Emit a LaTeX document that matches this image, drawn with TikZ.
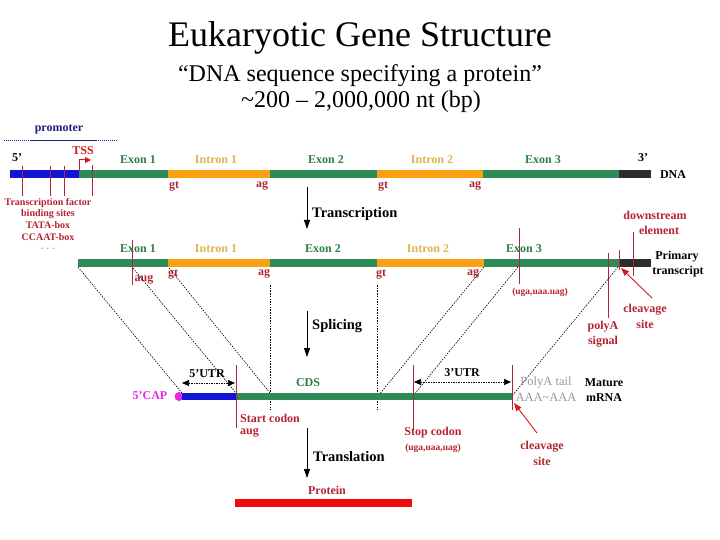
\documentclass[tikz,border=0pt]{standalone}
\usepackage{fontspec}
\setmainfont{Liberation Serif}
\usetikzlibrary{arrows.meta}
\definecolor{dnagreen}{RGB}{46,139,87}
\definecolor{intorange}{RGB}{250,160,20}
\definecolor{promblue}{RGB}{20,20,215}
\definecolor{darkend}{RGB}{45,45,45}
\definecolor{exlbl}{RGB}{45,125,70}
\definecolor{inlbl}{RGB}{225,178,80}
\definecolor{lblred}{RGB}{180,35,50}
\definecolor{tickred}{RGB}{175,40,55}
\definecolor{arrred}{RGB}{215,25,30}
\definecolor{navytxt}{RGB}{30,30,130}
\definecolor{capmag}{RGB}{230,40,230}
\definecolor{tailgrey}{RGB}{150,150,150}
\definecolor{protred}{RGB}{240,10,10}
\newcommand\fsz[1]{\fontsize{#1}{#1}\selectfont}
\tikzset{
  lbl/.style={font=\bfseries\fsz{12}, inner sep=0pt},
  tflbl/.style={font=\bfseries\fsz{10}, inner sep=0pt, text=lblred},
  proc/.style={font=\bfseries\fsz{14.5}, inner sep=0pt, anchor=west},
  redtxt/.style={lbl, text=lblred},
  extxt/.style={lbl, text=exlbl},
  intxt/.style={lbl, text=inlbl},
  blk/.style={lbl, text=black},
  greytxt/.style={font=\fsz{12.5}, inner sep=0pt, text=tailgrey},
  redtick/.style={draw=tickred, line width=0.9pt},
  mapline/.style={line width=0.6pt, dash pattern=on 1.5pt off 1.2pt},
  procarrow/.style={line width=0.9pt, -{Triangle[length=9pt,width=6pt]}},
  redarrow/.style={draw=arrred, line width=0.9pt, -{Triangle[length=8pt,width=6pt]}},
  utrarrow/.style={line width=0.7pt, dash pattern=on 1.5pt off 1pt,
    {Triangle[length=7pt,width=6pt]}-{Triangle[length=7pt,width=6pt]}},
}
\begin{document}
\begin{tikzpicture}[x=1pt,y=-1pt]
\useasboundingbox (0,0) rectangle (720,540);

% ---------------- title ----------------
\node[font=\fsz{36}, anchor=base, inner sep=0pt] (title) at (360,47) {Eukaryotic Gene Structure};
\node[font=\fsz{24}, anchor=base, inner sep=0pt] (sub1) at (360,82) {“DNA sequence specifying a protein”};
\node[font=\fsz{24}, anchor=base, inner sep=0pt] (sub2) at (361,108) {\textasciitilde200 -- 2,000,000 nt (bp)};

% ---------------- DNA row ----------------
\node[font=\bfseries\fsz{12}, text=navytxt, inner sep=0pt] (prom) at (59,129) {promoter};
\draw[navytxt, line width=0.6pt, dash pattern=on 1pt off 1pt] (4,140) -- (118,140);
\draw[navytxt, line width=0.8pt] (30,140) -- (97,140);

\fill[promblue] (10,170) rectangle (79,178);
\fill[dnagreen] (79,170) rectangle (168,178);
\fill[intorange] (168,170) rectangle (270,178);
\fill[dnagreen] (270,170) rectangle (377,178);
\fill[intorange] (377,170) rectangle (483,178);
\fill[dnagreen] (483,170) rectangle (619,178);
\fill[darkend] (619,170) rectangle (651,178);

\node[blk] (d5) at (17,158) {5'};
\node[blk] (d3) at (643,158) {3'};
\node[blk] (dna) at (673,175) {DNA};
\node[font=\bfseries\fsz{12}, text=arrred, inner sep=0pt] (tss) at (83,151) {TSS};
\coordinate (tssfoot) at (79,170);
\coordinate (tsshead) at (91,160);
\draw[arrred, line width=1pt, -{Triangle[length=6pt,width=6pt]}] (tssfoot) |- (tsshead);

\node[extxt] (dex1) at (138,160) {Exon 1};
\node[intxt] (din1) at (216,160) {Intron 1};
\node[extxt] (dex2) at (326,160) {Exon 2};
\node[intxt] (din2) at (432,160) {Intron 2};
\node[extxt] (dex3) at (543,160) {Exon 3};

\node[redtxt] (dgt1) at (174,186) {gt};
\node[redtxt] (dag1) at (262,186) {ag};
\node[redtxt] (dgt2) at (383,186) {gt};
\node[redtxt] (dag2) at (475,186) {ag};

\draw[redtick] (22,166) -- (22,196);
\draw[redtick] (50,166) -- (50,196);
\draw[redtick] (64,166) -- (64,196);
\draw[redtick] (92,165) -- (92,196);

\node[tflbl] (tf1) at (48,203) {Transcription factor};
\node[tflbl] (tf2) at (48,214) {binding sites};
\node[tflbl] (tf3) at (48,225) {TATA-box};
\node[tflbl] (tf4) at (48,237) {CCAAT-box};
\node[tflbl, text=lblred!50] (tf5) at (48,249) {.\,\,.\,\,.};

% Transcription
\coordinate (tra) at (307,187);
\coordinate (trb) at (307,229);
\draw[procarrow] (tra) -- (trb);
\node[proc] (trl) at (312,214) {Transcription};

\node[redtxt] (dse1) at (655,215) {downstream};
\node[redtxt] (dse2) at (659,230) {element};

% ---------------- primary transcript ----------------
\fill[dnagreen] (78,259) rectangle (168,267);
\fill[intorange] (168,259) rectangle (270,267);
\fill[dnagreen] (270,259) rectangle (377,267);
\fill[intorange] (377,259) rectangle (484,267);
\fill[dnagreen] (484,259) rectangle (619,267);
\fill[darkend] (619,259) rectangle (651,267);

\node[extxt] (pex1) at (138,249) {Exon 1};
\node[intxt] (pin1) at (216,249) {Intron 1};
\node[extxt] (pex2) at (323,249) {Exon 2};
\node[intxt] (pin2) at (428,249) {Intron 2};
\node[extxt] (pex3) at (524,249) {Exon 3};
\node[blk] (prim1) at (677,257) {Primary};
\node[blk] (prim2) at (678,272) {transcript};

\node[redtxt] (paug) at (144,280) {aug};
\node[redtxt] (pgt1) at (173,274) {gt};
\node[redtxt] (pag1) at (264,274) {ag};
\node[redtxt] (pgt2) at (381,274) {gt};
\node[redtxt] (pag2) at (473,274) {ag};
\node[font=\bfseries\fsz{9.5}, text=lblred, inner sep=0pt] (pstop) at (540,292) {(uga,uaa.uag)};

\draw[redtick] (132,240) -- (132,285);
\draw[redtick] (519,228) -- (519,284);
\draw[redtick] (608,253) -- (608,318);
\draw[redtick] (619,250) -- (619,270);
\draw[redtick] (633,232) -- (633,276);

\node[redtxt] (pola1) at (603,327) {polyA};
\node[redtxt] (pola2) at (603,342) {signal};
\node[redtxt] (pcl1) at (645,310) {cleavage};
\node[redtxt] (pcl2) at (645,324) {site};
\coordinate (pcla) at (652,298);
\coordinate (pclb) at (621,268);
\draw[redarrow] (pcla) -- (pclb);

% Splicing
\coordinate (spa) at (307,311);
\coordinate (spb) at (307,357);
\draw[procarrow] (spa) -- (spb);
\node[proc] (spl) at (312,326) {Splicing};

% ---------------- mapping lines ----------------
\coordinate (m1a) at (78,267);   \coordinate (m1b) at (182,393);
\coordinate (m2a) at (133,268);  \coordinate (m2b) at (236,393);
\coordinate (m3a) at (169,268);  \coordinate (m3b) at (270,393);
\coordinate (m4a) at (270,285);  \coordinate (m4b) at (270,410);
\coordinate (m5a) at (377,285);  \coordinate (m5b) at (377,410);
\coordinate (m6a) at (484,267);  \coordinate (m6b) at (378,396);
\coordinate (m7a) at (518,267);  \coordinate (m7b) at (413,396);
\coordinate (m8a) at (618,267);  \coordinate (m8b) at (512,396);
\foreach \i in {1,...,8} { \draw[mapline] (m\i a) -- (m\i b); }

% ---------------- mature mRNA ----------------
\fill[capmag] (179,396.5) circle[radius=4.5pt];
\fill[promblue] (182,393) rectangle (236,400);
\fill[dnagreen] (236,393) rectangle (512,400);

\node[font=\bfseries\fsz{12}, text=capmag, inner sep=0pt] (cap) at (150,396) {5'CAP};
\node[blk] (utr5) at (207,374) {5'UTR};
\coordinate (u5a) at (182,383);
\coordinate (u5b) at (235,383);
\draw[utrarrow] (u5a) -- (u5b);
\node[extxt] (cds) at (308,383) {CDS};
\node[blk] (utr3) at (462,373) {3'UTR};
\coordinate (u3a) at (414,382);
\coordinate (u3b) at (511,382);
\draw[utrarrow] (u3a) -- (u3b);
\node[greytxt] (tail1) at (546,383) {PolyA tail};
\node[greytxt] (tail2) at (546,397) {AAA\textasciitilde AAA};
\node[blk] (mat1) at (604,383) {Mature};
\node[blk] (mat2) at (604,398) {mRNA};

\draw[redtick] (236,365) -- (236,428);
\draw[redtick] (413,365) -- (413,430);
\draw[redtick] (512,365) -- (512,410);

\node[redtxt, anchor=west] (st1) at (240,418) {Start codon};
\node[redtxt, anchor=west] (st2) at (240,433) {aug};
\node[redtxt] (sp1) at (433,433) {Stop codon};
\node[font=\bfseries\fsz{9.5}, text=lblred, inner sep=0pt] (sp2) at (433,448) {(uga,uaa,uag)};
\node[redtxt] (mcl1) at (542,447) {cleavage};
\node[redtxt] (mcl2) at (542,461) {site};
\coordinate (mcla) at (537,433);
\coordinate (mclb) at (514,403);
\draw[redarrow] (mcla) -- (mclb);

% Translation
\coordinate (tla) at (307,428);
\coordinate (tlb) at (307,478);
\draw[procarrow] (tla) -- (tlb);
\node[proc] (tll) at (313,457) {Translation};

% Protein
\node[redtxt] (prot) at (327,490) {Protein};
\fill[protred] (235,499) rectangle (412,507);
\end{tikzpicture}
\end{document}
